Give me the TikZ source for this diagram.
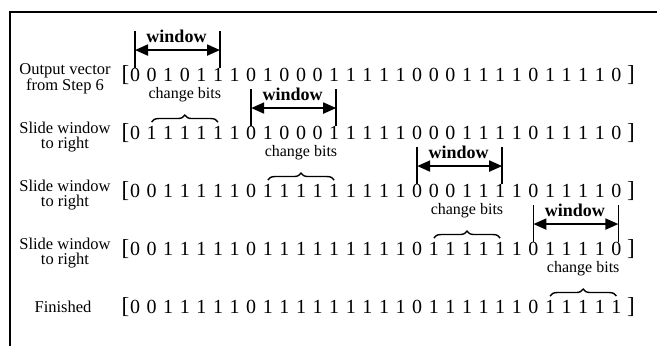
\documentclass[tikz,border=0pt]{standalone}
\usepackage{fontspec}
\setmainfont{Liberation Serif}
\usetikzlibrary{arrows.meta,decorations.pathreplacing,calc}

\tikzset{
  bit/.style={inner sep=0pt, text height=13.5pt, text depth=0pt, font=\fontsize{20}{20}\selectfont},
  brk/.style={inner sep=0pt, anchor=base, font=\fontsize{23}{23}\selectfont},
  rowlabel/.style={align=center, inner sep=0pt, font=\fontsize{16.5}{15}\selectfont},
  winlabel/.style={inner sep=0pt, font=\bfseries\fontsize{18}{18}\selectfont},
  chglabel/.style={inner sep=0pt, font=\fontsize{16}{16}\selectfont},
  winline/.style={line width=1.6pt},
  winarrow/.style={line width=2pt, {Triangle[length=13pt,width=11pt]}-{Triangle[length=13pt,width=11pt]}},
  chgbrace/.style={decorate, decoration={brace, amplitude=7pt}, line width=1.4pt},
}

\begin{document}
\begin{tikzpicture}[x=1pt,y=1pt]
\useasboundingbox (0,0) rectangle (657,346);
% draw frame
\draw[line width=2pt] (10,0) -- (10,334) -- (657,334);
% draw row labels
\node[rowlabel] (lab1) at (65,267) {Output vector\\from Step 6};
\node[rowlabel] (lab2) at (65,209) {Slide window\\to right};
\node[rowlabel] (lab3) at (65,151) {Slide window\\to right};
\node[rowlabel] (lab4) at (65,93) {Slide window\\to right};
\node[rowlabel] (lab5) at (63,39) {Finished};
% draw bit rows
\foreach \b [count=\i] in {0,0,1,0,1,1,1,0,1,0,0,0,1,1,1,1,1,0,0,0,1,1,1,1,0,1,1,1,1,0}
  \node[bit] (r1-\i) at ({135+16.6*(\i-1)},271) {\b};
\foreach \b [count=\i] in {0,1,1,1,1,1,1,0,1,0,0,0,1,1,1,1,1,0,0,0,1,1,1,1,0,1,1,1,1,0}
  \node[bit] (r2-\i) at ({135+16.6*(\i-1)},213) {\b};
\foreach \b [count=\i] in {0,0,1,1,1,1,1,0,1,1,1,1,1,1,1,1,1,0,0,0,1,1,1,1,0,1,1,1,1,0}
  \node[bit] (r3-\i) at ({135+16.6*(\i-1)},155) {\b};
\foreach \b [count=\i] in {0,0,1,1,1,1,1,0,1,1,1,1,1,1,1,1,1,0,1,1,1,1,1,1,0,1,1,1,1,0}
  \node[bit] (r4-\i) at ({135+16.6*(\i-1)},97) {\b};
\foreach \b [count=\i] in {0,0,1,1,1,1,1,0,1,1,1,1,1,1,1,1,1,0,1,1,1,1,1,1,0,1,1,1,1,1}
  \node[bit] (r5-\i) at ({135+16.6*(\i-1)},39) {\b};
% draw brackets
\foreach \r in {1,...,5}{
  \node[brk] (r\r-l) at ([xshift=-9.5pt]r\r-1.south) {[};
  \node[brk] (r\r-r) at ([xshift=14.5pt]r\r-30.south) {]};
}
% draw window row 1
\draw[winline] (r1-1.north) -- ++(0,37);
\draw[winline] ([xshift=2pt]r1-6.north) -- ++(0,37);
\draw[winarrow] ([yshift=18pt]r1-1.north) -- ([xshift=2pt,yshift=18pt]r1-6.north);
\node[winlabel] (win1) at ([yshift=32pt]$(r1-1.north)!0.5!(r1-6.north)$) {window};
% draw change bits row 2
\draw[chgbrace] ([yshift=4pt]r2-2.north) -- ([yshift=4pt]r2-6.north);
\node[chglabel] (chg2) at ([yshift=31pt]$(r2-2.north)!0.5!(r2-6.north)$) {change bits};
% draw window row 2
\draw[winline] (r2-8.north) -- ++(0,37);
\draw[winline] ([xshift=2pt]r2-13.north) -- ++(0,37);
\draw[winarrow] ([yshift=18pt]r2-8.north) -- ([xshift=2pt,yshift=18pt]r2-13.north);
\node[winlabel] (win2) at ([yshift=32pt]$(r2-8.north)!0.5!(r2-13.north)$) {window};
% draw change bits row 3
\draw[chgbrace] ([yshift=4pt]r3-9.north) -- ([yshift=4pt]r3-13.north);
\node[chglabel] (chg3) at ([yshift=31pt]$(r3-9.north)!0.5!(r3-13.north)$) {change bits};
% draw window row 3
\draw[winline] (r3-18.north) -- ++(0,37);
\draw[winline] ([xshift=2pt]r3-23.north) -- ++(0,37);
\draw[winarrow] ([yshift=18pt]r3-18.north) -- ([xshift=2pt,yshift=18pt]r3-23.north);
\node[winlabel] (win3) at ([yshift=32pt]$(r3-18.north)!0.5!(r3-23.north)$) {window};
% draw change bits row 4
\draw[chgbrace] ([yshift=4pt]r4-19.north) -- ([yshift=4pt]r4-23.north);
\node[chglabel] (chg4) at ([yshift=31pt]$(r4-19.north)!0.5!(r4-23.north)$) {change bits};
% draw window row 4
\draw[winline] (r4-25.north) -- ++(0,37);
\draw[winline] ([xshift=2pt]r4-30.north) -- ++(0,37);
\draw[winarrow] ([yshift=18pt]r4-25.north) -- ([xshift=2pt,yshift=18pt]r4-30.north);
\node[winlabel] (win4) at ([yshift=32pt]$(r4-25.north)!0.5!(r4-30.north)$) {window};
% draw change bits row 5
\draw[chgbrace] ([yshift=4pt]r5-26.north) -- ([yshift=4pt]r5-30.north);
\node[chglabel] (chg5) at ([yshift=31pt]$(r5-26.north)!0.5!(r5-30.north)$) {change bits};
\end{tikzpicture}
\end{document}
